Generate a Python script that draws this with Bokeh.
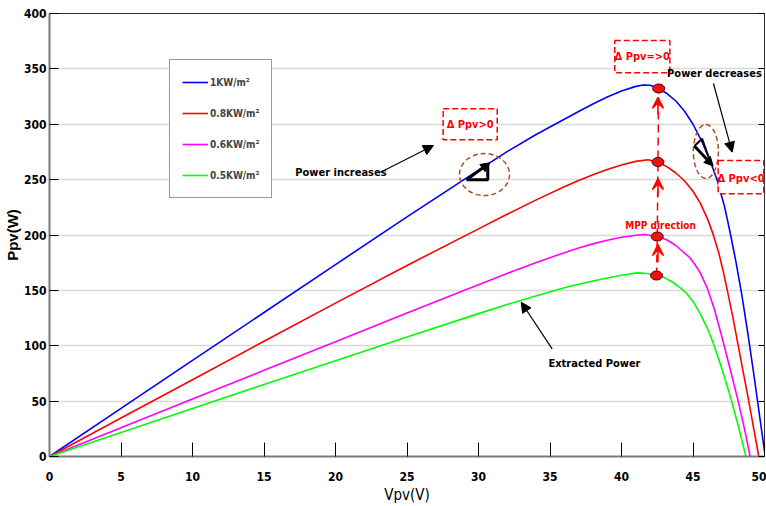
from bokeh.plotting import figure
from bokeh.models import (Range1d, Legend, LegendItem, Label, Arrow, NormalHead, VeeHead,
                          LinearAxis, FixedTicker, BoxAnnotation)
from bokeh.embed import file_html
from bokeh.resources import INLINE

# ---------------- data ----------------
x_ticks = [0, 5, 10, 15, 20, 25, 30, 35, 40, 45, 50]
y_ticks = [0, 50, 100, 150, 200, 250, 300, 350, 400]

labels = ["1KW/m\u00b2", "0.8KW/m\u00b2", "0.6KW/m\u00b2", "0.5KW/m\u00b2"]

v_1kw = [0, 5, 10, 15, 20, 25, 30, 32, 34, 36, 37, 38, 39, 40, 41, 41.5, 42.0, 42.6, 43.2, 43.8,
         44.4, 45.0, 45.6, 46.2, 46.7, 47.2, 47.6, 48.0, 48.4, 48.8, 49.2, 49.6, 50.05]
p_1kw = [0, 43.4, 86.8, 130, 173.3, 216.3, 258.6, 275.3, 290.5, 304.5, 311.5, 318.3, 324.6, 330,
         334.2, 335.5, 335.2, 332.3, 327.5, 321, 312, 300, 285, 267, 249, 226, 202, 176, 147, 114,
         79, 42, 0]

v_08kw = [0, 5, 10, 15, 20, 25, 30, 32, 34, 36, 37, 38, 39, 40, 41, 41.85, 42.55, 43.2, 43.8,
          44.4, 45.0, 45.5, 46.0, 46.4, 46.8, 47.1, 47.4, 47.8, 48.15, 48.5, 48.9, 49.25, 49.6]
p_08kw = [0, 34.7, 69.3, 104, 138.5, 172.5, 205.5, 218.7, 231.5, 243.5, 249.2, 254.5, 259.2,
          263.2, 266.5, 268, 265.9, 261.5, 256, 249, 239.5, 229, 215, 201, 184, 168, 150, 125,
          101, 77, 50, 25, 0]

v_06kw = [0, 5, 10, 15, 20, 25, 30, 32, 34, 36, 37, 38, 39, 40, 41, 41.6, 42.5, 43.2, 43.8, 44.2,
          44.7, 45.1, 45.5, 46.0, 46.5, 47.1, 47.6, 48.16, 48.6, 49.0]
p_06kw = [0, 26, 52, 77.8, 103.7, 129.5, 155, 165.2, 175, 184, 188.2, 192, 195.3, 198, 199.8,
          200.4, 198.6, 195.5, 190.5, 186, 180.5, 174, 166, 152, 133, 104, 79, 50, 25, 0]

v_05kw = [0, 5, 10, 15, 20, 25, 30, 32, 34, 36, 37, 38, 39, 40, 41.1, 41.8, 42.45, 43.0, 43.5,
          44.0, 44.5, 45.0, 45.5, 46.0, 46.4, 46.9, 47.3, 47.7, 48.2, 48.7]
p_05kw = [0, 21.7, 43.4, 65, 86.5, 108, 129, 137.2, 145, 152.3, 155.5, 158.5, 161.2, 163.6, 165.8,
          165.3, 163.4, 161.5, 158, 153.5, 148, 140, 129, 116, 103, 84, 67.5, 50, 26, 0]

# maximum power points (dots)
mpp_v = [42.45, 42.5, 42.55, 42.6]
mpp_p = [163.4, 198.6, 265.9, 332.3]
# MPP-direction arrow tips (P values)
mpp_arrow_tips = [191.4, 251, 324.4]

colors = ["#0000ff", "#ff0000", "#ff00ff", "#00ff00"]

FONT = "DejaVu Sans Condensed"

p = figure(width=766, height=506, output_backend="svg", toolbar_location=None,
           x_range=Range1d(0, 50), y_range=Range1d(0, 400),
           min_border_left=49, min_border_right=2, min_border_top=13, min_border_bottom=50)
p.background_fill_color = "white"
p.border_fill_color = "white"
p.outline_line_color = "#303030"
p.outline_line_width = 1

# grid
p.xgrid.grid_line_color = None
p.ygrid.grid_line_color = "#d9d9d9"
p.ygrid.grid_line_width = 1.3

# axes
p.xaxis.ticker = FixedTicker(ticks=x_ticks)
p.yaxis.ticker = FixedTicker(ticks=y_ticks)
for ax in (p.xaxis, p.yaxis):
    ax.major_tick_out = 0
    ax.minor_tick_line_color = None
    ax.major_tick_line_color = "black"
    ax.major_tick_line_width = 1
    ax.axis_line_color = "#7a7a7a"
    ax.axis_line_width = 2
    ax.major_label_text_font = FONT
    ax.major_label_text_font_style = "bold"
    ax.major_label_text_font_size = "12px"
    ax.major_label_text_color = "black"
    ax.axis_label_text_color = "black"
p.xaxis.major_tick_in = 14
p.yaxis.major_tick_in = 9
p.xaxis.major_label_standoff = 15
p.yaxis.major_label_standoff = 3
p.xaxis.axis_label = "Vpv(V)"
p.xaxis.axis_label_text_font = FONT
p.xaxis.axis_label_text_font_style = "normal"
p.xaxis.axis_label_text_font_size = "15px"
p.xaxis.axis_label_standoff = 2
p.yaxis.axis_label = "Ppv(W)"
p.yaxis.axis_label_text_font = "Liberation Sans"
p.yaxis.axis_label_text_font_style = "bold"
p.yaxis.axis_label_text_font_size = "15px"
p.yaxis.axis_label_standoff = 0

ry = LinearAxis(ticker=FixedTicker(ticks=y_ticks), major_tick_in=6, major_tick_out=0,
                major_label_text_font_size="0px", major_label_standoff=0,
                axis_line_color=None, minor_tick_line_color=None, major_tick_line_color="black")
p.add_layout(ry, "right")

# curves
series = [(v_1kw, p_1kw), (v_08kw, p_08kw), (v_06kw, p_06kw), (v_05kw, p_05kw)]
renderers = []
for (vv, pp), c in zip(series, colors):
    r = p.line(vv, pp, line_color=c, line_width=1.6, line_join="round")
    renderers.append(r)

# MPP dashed vertical line and arrows
p.line(mpp_v, mpp_p, line_color="#ff0000", line_width=1.5, line_dash="8 5")
for tip in mpp_arrow_tips:
    p.add_layout(Arrow(end=VeeHead(size=11, line_color="#ff0000", fill_color="#ff0000",
                                   line_width=1.5),
                       x_start=42.55, y_start=tip - 16, x_end=42.55, y_end=tip,
                       line_color="#ff0000", line_width=1.6))
p.ellipse(mpp_v, mpp_p, width=12, height=9, width_units="screen", height_units="screen",
          fill_color="#ee1111", line_color="#5a0000", line_width=1)

# ---------------- annotations ----------------
def txt(x, y, s, color="black", size="11px", bold=True, align="center"):
    p.add_layout(Label(x=x, y=y, text=s, text_font=FONT, text_font_size=size,
                       text_font_style="bold" if bold else "normal", text_color=color,
                       text_align=align, text_baseline="middle"))

def arrow(x0, y0, x1, y1, width=1.2, size=10):
    p.add_layout(Arrow(end=NormalHead(size=size, fill_color="black", line_color="black"),
                       x_start=x0, y_start=y0, x_end=x1, y_end=y1,
                       line_color="black", line_width=width))

def dbox(l, r, b, t):
    p.add_layout(BoxAnnotation(left=l, right=r, bottom=b, top=t, fill_color="white",
                               fill_alpha=1, line_color="#ff0000", line_alpha=1,
                               line_width=1.5, line_dash="6 3"))

# red dashed boxes
dbox(27.53, 31.31, 285.9, 313.9)
txt(29.42, 300, "\u0394 Ppv>0", color="#ff0000", size="11px")
dbox(39.53, 43.38, 346.5, 375.6)
txt(41.45, 361.2, "\u0394 Ppv=>0", color="#ff0000", size="11px")
dbox(46.76, 49.95, 237.2, 267.3)
txt(48.36, 251, "\u0394 Ppv<0", color="#ff0000", size="11px")

# texts + arrows
txt(20.38, 256.7, "Power increases")
arrow(23.15, 256.7, 26.85, 280.8)
txt(46.5, 345.6, "Power decreases")
arrow(46.43, 336.8, 47.74, 274.8)
txt(38.11, 84, "Extracted Power")
arrow(35.15, 97.2, 32.99, 139.3)
txt(42.73, 208.6, "MPP direction", color="#ff0000", size="10px")

# brown dashed ellipses
p.ellipse([30.42, 45.9], [254.6, 275.4], width=[50, 25], height=[42, 54],
          width_units="screen", height_units="screen", fill_alpha=0,
          line_color="#a0522d", line_width=1.5, line_dash="5 3")

# triangle markers
p.line([29.16, 30.65, 30.65], [249.8, 249.8, 264.3], line_color="black", line_width=3)
arrow(29.16, 249.8, 30.79, 265.2, width=3, size=9)
p.line([45.1, 45.64, 46.22], [280.4, 286.9, 265.7], line_color="black", line_width=2)
arrow(45.1, 280.4, 46.41, 262.3, width=3, size=9)

# legend
legend = Legend(items=[LegendItem(label=l, renderers=[r]) for l, r in zip(labels, renderers)],
                location=(120, 258), orientation="vertical",
                label_text_font=FONT, label_text_font_size="10px", label_text_font_style="bold",
                glyph_width=26, glyph_height=20, label_height=20, spacing=11, padding=12,
                label_standoff=2, margin=0, border_line_color="#333333", border_line_width=1,
                background_fill_color="white", background_fill_alpha=1)
p.add_layout(legend)

open("out.html", "w").write(file_html(p, INLINE))
